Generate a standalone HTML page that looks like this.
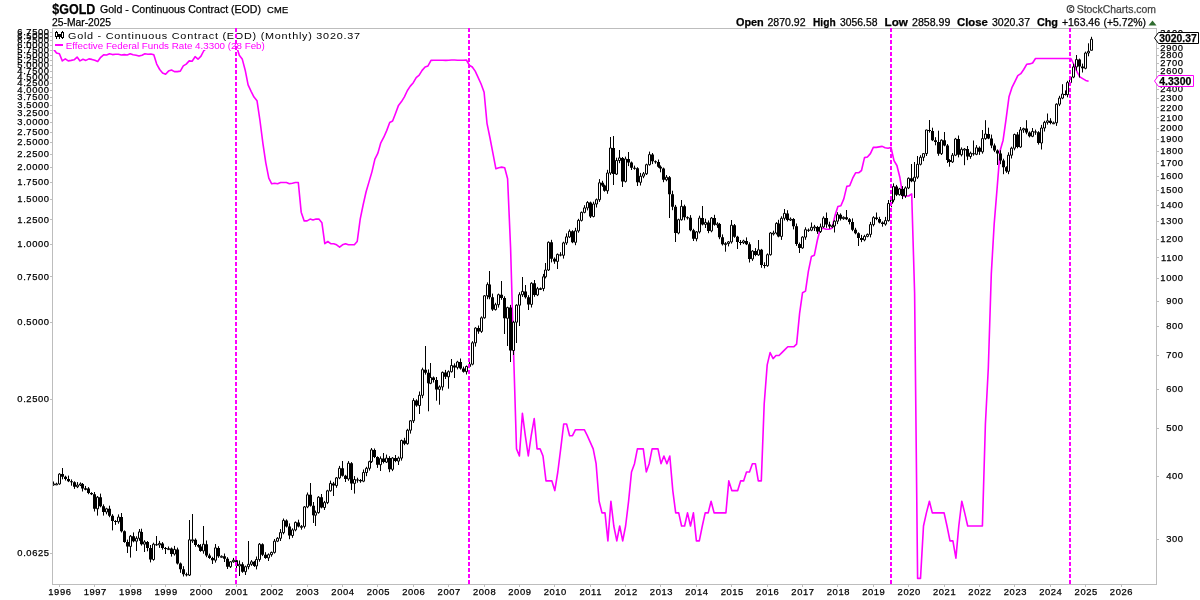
<!DOCTYPE html>
<html><head><meta charset="utf-8"><style>
html,body{margin:0;padding:0;background:#fff;}
body{width:1200px;height:600px;position:relative;overflow:hidden;font-family:"Liberation Sans", sans-serif;color:#000;}
svg text{font-family:"Liberation Sans", sans-serif;stroke-width:0.25px;}
</style></head><body>
<svg width="1200" height="600" style="position:absolute;left:0;top:0;will-change:transform"><rect x="52.5" y="28.5" width="1104" height="556" fill="#fff" stroke="#bdbdbd" stroke-width="1"/><path d="M50 553.5h2M50 399.5h2M50 322.5h2M50 276.5h2M50 244.5h2M50 219.5h2M50 199.5h2M50 182.5h2M50 167.5h2M50 154.5h2M50 142.5h2M50 132.5h2M50 122.5h2M50 113.5h2M50 105.5h2M50 97.5h2M50 90.5h2M50 83.5h2M50 77.5h2M50 71.5h2M50 65.5h2M50 60.5h2M50 55.5h2M50 50.5h2M50 45.5h2M50 40.5h2M50 36.5h2M50 32.5h2M1157 539.5h2M1157 476.5h2M1157 428.5h2M1157 389.5h2M1157 355.5h2M1157 326.5h2M1157 301.5h2M1157 278.5h2M1157 257.5h2M1157 239.5h2M1157 221.5h2M1157 205.5h2M1157 190.5h2M1157 176.5h2M1157 163.5h2M1157 151.5h2M1157 139.5h2M1157 128.5h2M1157 117.5h2M1157 107.5h2M1157 98.5h2M1157 89.5h2M1157 80.5h2M1157 71.5h2M1157 63.5h2M1157 55.5h2M1157 48.5h2M1157 40.5h2M1157 33.5h2M59.5 585v2M94.5 585v2M130.5 585v2M165.5 585v2M200.5 585v2M236.5 585v2M271.5 585v2M307.5 585v2M342.5 585v2M377.5 585v2M413.5 585v2M448.5 585v2M484.5 585v2M519.5 585v2M554.5 585v2M590.5 585v2M625.5 585v2M660.5 585v2M696.5 585v2M731.5 585v2M767.5 585v2M802.5 585v2M837.5 585v2M873.5 585v2M908.5 585v2M944.5 585v2M979.5 585v2M1014.5 585v2M1050.5 585v2M1085.5 585v2M1121.5 585v2" stroke="#bdbdbd" stroke-width="1" fill="none"/><text x="49.6" y="556.1" text-anchor="end" font-size="9.4" letter-spacing="0.6" stroke="#000">0.0625</text><text x="49.6" y="401.8" text-anchor="end" font-size="9.4" letter-spacing="0.6" stroke="#000">0.2500</text><text x="49.6" y="324.6" text-anchor="end" font-size="9.4" letter-spacing="0.6" stroke="#000">0.5000</text><text x="49.6" y="279.5" text-anchor="end" font-size="9.4" letter-spacing="0.6" stroke="#000">0.7500</text><text x="49.6" y="247.4" text-anchor="end" font-size="9.4" letter-spacing="0.6" stroke="#000">1.0000</text><text x="49.6" y="222.6" text-anchor="end" font-size="9.4" letter-spacing="0.6" stroke="#000">1.2500</text><text x="49.6" y="202.3" text-anchor="end" font-size="9.4" letter-spacing="0.6" stroke="#000">1.5000</text><text x="49.6" y="185.1" text-anchor="end" font-size="9.4" letter-spacing="0.6" stroke="#000">1.7500</text><text x="49.6" y="170.3" text-anchor="end" font-size="9.4" letter-spacing="0.6" stroke="#000">2.0000</text><text x="49.6" y="157.1" text-anchor="end" font-size="9.4" letter-spacing="0.6" stroke="#000">2.2500</text><text x="49.6" y="145.4" text-anchor="end" font-size="9.4" letter-spacing="0.6" stroke="#000">2.5000</text><text x="49.6" y="134.8" text-anchor="end" font-size="9.4" letter-spacing="0.6" stroke="#000">2.7500</text><text x="49.6" y="125.1" text-anchor="end" font-size="9.4" letter-spacing="0.6" stroke="#000">3.0000</text><text x="49.6" y="116.2" text-anchor="end" font-size="9.4" letter-spacing="0.6" stroke="#000">3.2500</text><text x="49.6" y="108.0" text-anchor="end" font-size="9.4" letter-spacing="0.6" stroke="#000">3.5000</text><text x="49.6" y="100.3" text-anchor="end" font-size="9.4" letter-spacing="0.6" stroke="#000">3.7500</text><text x="49.6" y="93.1" text-anchor="end" font-size="9.4" letter-spacing="0.6" stroke="#000">4.0000</text><text x="49.6" y="86.3" text-anchor="end" font-size="9.4" letter-spacing="0.6" stroke="#000">4.2500</text><text x="49.6" y="80.0" text-anchor="end" font-size="9.4" letter-spacing="0.6" stroke="#000">4.5000</text><text x="49.6" y="74.0" text-anchor="end" font-size="9.4" letter-spacing="0.6" stroke="#000">4.7500</text><text x="49.6" y="68.2" text-anchor="end" font-size="9.4" letter-spacing="0.6" stroke="#000">5.0000</text><text x="49.6" y="62.8" text-anchor="end" font-size="9.4" letter-spacing="0.6" stroke="#000">5.2500</text><text x="49.6" y="57.6" text-anchor="end" font-size="9.4" letter-spacing="0.6" stroke="#000">5.5000</text><text x="49.6" y="52.7" text-anchor="end" font-size="9.4" letter-spacing="0.6" stroke="#000">5.7500</text><text x="49.6" y="47.9" text-anchor="end" font-size="9.4" letter-spacing="0.6" stroke="#000">6.0000</text><text x="49.6" y="43.4" text-anchor="end" font-size="9.4" letter-spacing="0.6" stroke="#000">6.2500</text><text x="49.6" y="39.0" text-anchor="end" font-size="9.4" letter-spacing="0.6" stroke="#000">6.5000</text><text x="49.6" y="34.8" text-anchor="end" font-size="9.4" letter-spacing="0.6" stroke="#000">6.7500</text><text x="1183.6" y="541.6" text-anchor="end" font-size="9.4" letter-spacing="0.6" stroke="#000">300</text><text x="1183.6" y="479.4" text-anchor="end" font-size="9.4" letter-spacing="0.6" stroke="#000">400</text><text x="1183.6" y="431.1" text-anchor="end" font-size="9.4" letter-spacing="0.6" stroke="#000">500</text><text x="1183.6" y="391.6" text-anchor="end" font-size="9.4" letter-spacing="0.6" stroke="#000">600</text><text x="1183.6" y="358.3" text-anchor="end" font-size="9.4" letter-spacing="0.6" stroke="#000">700</text><text x="1183.6" y="329.4" text-anchor="end" font-size="9.4" letter-spacing="0.6" stroke="#000">800</text><text x="1183.6" y="303.9" text-anchor="end" font-size="9.4" letter-spacing="0.6" stroke="#000">900</text><text x="1183.6" y="281.1" text-anchor="end" font-size="9.4" letter-spacing="0.6" stroke="#000">1000</text><text x="1183.6" y="260.5" text-anchor="end" font-size="9.4" letter-spacing="0.6" stroke="#000">1100</text><text x="1183.6" y="241.6" text-anchor="end" font-size="9.4" letter-spacing="0.6" stroke="#000">1200</text><text x="1183.6" y="224.3" text-anchor="end" font-size="9.4" letter-spacing="0.6" stroke="#000">1300</text><text x="1183.6" y="208.3" text-anchor="end" font-size="9.4" letter-spacing="0.6" stroke="#000">1400</text><text x="1183.6" y="193.4" text-anchor="end" font-size="9.4" letter-spacing="0.6" stroke="#000">1500</text><text x="1183.6" y="179.4" text-anchor="end" font-size="9.4" letter-spacing="0.6" stroke="#000">1600</text><text x="1183.6" y="166.3" text-anchor="end" font-size="9.4" letter-spacing="0.6" stroke="#000">1700</text><text x="1183.6" y="153.9" text-anchor="end" font-size="9.4" letter-spacing="0.6" stroke="#000">1800</text><text x="1183.6" y="142.2" text-anchor="end" font-size="9.4" letter-spacing="0.6" stroke="#000">1900</text><text x="1183.6" y="131.1" text-anchor="end" font-size="9.4" letter-spacing="0.6" stroke="#000">2000</text><text x="1183.6" y="120.5" text-anchor="end" font-size="9.4" letter-spacing="0.6" stroke="#000">2100</text><text x="1183.6" y="110.5" text-anchor="end" font-size="9.4" letter-spacing="0.6" stroke="#000">2200</text><text x="1183.6" y="100.9" text-anchor="end" font-size="9.4" letter-spacing="0.6" stroke="#000">2300</text><text x="1183.6" y="91.6" text-anchor="end" font-size="9.4" letter-spacing="0.6" stroke="#000">2400</text><text x="1183.6" y="82.8" text-anchor="end" font-size="9.4" letter-spacing="0.6" stroke="#000">2500</text><text x="1183.6" y="74.3" text-anchor="end" font-size="9.4" letter-spacing="0.6" stroke="#000">2600</text><text x="1183.6" y="66.2" text-anchor="end" font-size="9.4" letter-spacing="0.6" stroke="#000">2700</text><text x="1183.6" y="58.3" text-anchor="end" font-size="9.4" letter-spacing="0.6" stroke="#000">2800</text><text x="1183.6" y="50.7" text-anchor="end" font-size="9.4" letter-spacing="0.6" stroke="#000">2900</text><text x="1183.6" y="43.4" text-anchor="end" font-size="9.4" letter-spacing="0.6" stroke="#000">3000</text><text x="1183.6" y="36.3" text-anchor="end" font-size="9.4" letter-spacing="0.6" stroke="#000">3100</text><text x="59.9" y="595" text-anchor="middle" font-size="9.4" letter-spacing="0.6" stroke="#000">1996</text><text x="95.3" y="595" text-anchor="middle" font-size="9.4" letter-spacing="0.6" stroke="#000">1997</text><text x="130.7" y="595" text-anchor="middle" font-size="9.4" letter-spacing="0.6" stroke="#000">1998</text><text x="166.1" y="595" text-anchor="middle" font-size="9.4" letter-spacing="0.6" stroke="#000">1999</text><text x="201.5" y="595" text-anchor="middle" font-size="9.4" letter-spacing="0.6" stroke="#000">2000</text><text x="236.8" y="595" text-anchor="middle" font-size="9.4" letter-spacing="0.6" stroke="#000">2001</text><text x="272.2" y="595" text-anchor="middle" font-size="9.4" letter-spacing="0.6" stroke="#000">2002</text><text x="307.6" y="595" text-anchor="middle" font-size="9.4" letter-spacing="0.6" stroke="#000">2003</text><text x="343.0" y="595" text-anchor="middle" font-size="9.4" letter-spacing="0.6" stroke="#000">2004</text><text x="378.4" y="595" text-anchor="middle" font-size="9.4" letter-spacing="0.6" stroke="#000">2005</text><text x="413.8" y="595" text-anchor="middle" font-size="9.4" letter-spacing="0.6" stroke="#000">2006</text><text x="449.2" y="595" text-anchor="middle" font-size="9.4" letter-spacing="0.6" stroke="#000">2007</text><text x="484.6" y="595" text-anchor="middle" font-size="9.4" letter-spacing="0.6" stroke="#000">2008</text><text x="519.9" y="595" text-anchor="middle" font-size="9.4" letter-spacing="0.6" stroke="#000">2009</text><text x="555.3" y="595" text-anchor="middle" font-size="9.4" letter-spacing="0.6" stroke="#000">2010</text><text x="590.7" y="595" text-anchor="middle" font-size="9.4" letter-spacing="0.6" stroke="#000">2011</text><text x="626.1" y="595" text-anchor="middle" font-size="9.4" letter-spacing="0.6" stroke="#000">2012</text><text x="661.5" y="595" text-anchor="middle" font-size="9.4" letter-spacing="0.6" stroke="#000">2013</text><text x="696.9" y="595" text-anchor="middle" font-size="9.4" letter-spacing="0.6" stroke="#000">2014</text><text x="732.3" y="595" text-anchor="middle" font-size="9.4" letter-spacing="0.6" stroke="#000">2015</text><text x="767.7" y="595" text-anchor="middle" font-size="9.4" letter-spacing="0.6" stroke="#000">2016</text><text x="803.0" y="595" text-anchor="middle" font-size="9.4" letter-spacing="0.6" stroke="#000">2017</text><text x="838.4" y="595" text-anchor="middle" font-size="9.4" letter-spacing="0.6" stroke="#000">2018</text><text x="873.8" y="595" text-anchor="middle" font-size="9.4" letter-spacing="0.6" stroke="#000">2019</text><text x="909.2" y="595" text-anchor="middle" font-size="9.4" letter-spacing="0.6" stroke="#000">2020</text><text x="944.6" y="595" text-anchor="middle" font-size="9.4" letter-spacing="0.6" stroke="#000">2021</text><text x="980.0" y="595" text-anchor="middle" font-size="9.4" letter-spacing="0.6" stroke="#000">2022</text><text x="1015.4" y="595" text-anchor="middle" font-size="9.4" letter-spacing="0.6" stroke="#000">2023</text><text x="1050.8" y="595" text-anchor="middle" font-size="9.4" letter-spacing="0.6" stroke="#000">2024</text><text x="1086.2" y="595" text-anchor="middle" font-size="9.4" letter-spacing="0.6" stroke="#000">2025</text><text x="1121.5" y="595" text-anchor="middle" font-size="9.4" letter-spacing="0.6" stroke="#000">2026</text><g clip-path="url(#cp)"><clipPath id="cp"><rect x="53" y="29" width="1103" height="555"/></clipPath><polyline points="53.5,49.1 56.5,53.0 59.4,53.8 62.3,60.9 65.3,58.9 68.2,60.9 71.2,60.4 74.1,59.8 77.1,57.1 80.0,60.9 83.0,59.2 85.9,60.4 88.9,58.9 91.8,59.4 94.8,60.2 97.7,61.5 100.7,57.3 103.6,54.8 106.6,55.0 109.5,53.8 112.5,54.6 115.4,54.2 118.4,54.2 121.3,55.0 124.3,54.6 127.2,55.0 130.2,53.8 133.1,54.8 136.1,55.2 139.0,56.1 142.0,55.2 144.9,53.8 147.9,54.2 150.8,54.0 153.8,54.8 156.7,64.1 159.7,69.5 162.6,73.0 165.6,74.2 168.5,71.1 171.5,70.0 174.4,71.6 177.4,71.6 180.3,71.1 183.3,65.9 186.2,64.1 189.2,60.9 192.1,61.3 195.1,56.7 198.0,59.2 201.0,56.1 203.9,50.5 206.8,48.2 209.8,45.0 212.7,40.4 215.7,35.9 218.6,35.8 221.6,36.4 224.5,36.1 227.5,36.3 230.4,36.3 233.4,38.2 236.3,45.7 239.3,55.2 242.2,58.9 245.2,70.2 248.1,84.8 251.1,91.3 254.0,97.1 257.0,100.7 259.9,120.0 262.9,143.3 265.8,162.8 268.8,178.2 271.7,183.8 274.7,183.2 277.6,183.8 280.6,182.5 283.5,182.5 286.5,182.5 289.4,183.8 292.4,183.2 295.3,182.5 298.3,182.5 301.2,212.2 304.2,220.9 307.1,220.9 310.1,219.1 313.0,220.0 316.0,219.1 318.9,219.1 321.9,222.7 324.8,243.7 327.8,241.5 330.7,243.7 333.7,243.7 336.6,244.8 339.6,247.1 342.5,244.8 345.5,243.7 348.4,244.8 351.4,244.8 354.3,244.8 357.2,241.5 360.2,219.1 363.1,205.0 366.1,191.8 369.0,181.9 372.0,171.6 374.9,159.1 377.9,153.1 380.8,142.8 383.8,137.2 386.7,130.6 389.7,122.5 392.6,121.0 395.6,113.3 398.5,105.4 401.5,101.6 404.4,96.8 407.4,90.5 410.3,86.1 413.3,82.7 416.2,77.6 419.2,75.2 422.1,70.4 425.1,67.0 428.0,65.9 431.0,60.4 433.9,60.2 436.9,60.2 439.8,60.2 442.8,60.2 445.7,60.4 448.7,60.2 451.6,60.0 454.6,60.0 457.5,60.2 460.5,60.2 463.4,60.2 466.4,60.0 469.3,65.2 472.3,67.0 475.2,71.1 478.2,77.6 481.1,84.0 484.1,92.2 487.0,123.3 490.0,138.0 492.9,153.1 495.9,168.8 498.8,167.7 501.7,167.1 504.7,167.7 507.6,178.8 510.6,248.2 513.5,349.7 516.5,448.9 519.4,456.0 522.4,413.4 525.3,435.7 528.3,456.0 531.2,435.7 534.2,418.6 537.1,448.9 540.1,448.9 543.0,456.0 546.0,480.9 548.9,480.9 551.9,480.9 554.8,490.6 557.8,472.0 560.7,448.9 563.7,424.0 566.6,424.0 569.6,435.7 572.5,435.7 575.5,429.7 578.4,429.7 581.4,429.7 584.3,429.7 587.3,435.7 590.2,442.1 593.2,448.9 596.1,463.7 599.1,501.2 602.0,512.9 605.0,512.9 607.9,540.9 610.9,501.2 613.8,526.0 616.8,540.9 619.7,526.0 622.7,540.9 625.6,526.0 628.6,501.2 631.5,472.0 634.5,463.7 637.4,448.9 640.4,448.9 643.3,448.9 646.3,472.0 649.2,463.7 652.1,448.9 655.1,448.9 658.0,448.9 661.0,463.7 663.9,456.0 666.9,463.7 669.8,456.0 672.8,490.6 675.7,512.9 678.7,512.9 681.6,526.0 684.6,526.0 687.5,512.9 690.5,526.0 693.4,512.9 696.4,540.9 699.3,540.9 702.3,526.0 705.2,512.9 708.2,512.9 711.1,501.2 714.1,512.9 717.0,512.9 720.0,512.9 722.9,512.9 725.9,512.9 728.8,480.9 731.8,490.6 734.7,490.6 737.7,490.6 740.6,480.9 743.6,480.9 746.5,472.0 749.5,472.0 752.4,463.7 755.4,463.7 758.3,480.9 761.3,480.9 764.2,403.7 767.2,364.9 770.1,352.6 773.1,358.6 776.0,355.5 779.0,355.5 781.9,352.6 784.9,349.7 787.8,346.8 790.8,346.8 793.7,346.8 796.6,344.1 799.6,313.4 802.5,292.8 805.5,291.1 808.4,271.1 811.4,256.6 814.3,255.3 817.3,240.5 820.2,229.3 823.2,228.3 826.1,229.3 829.1,229.3 832.0,228.3 835.0,215.6 837.9,206.6 840.9,205.8 843.8,198.9 846.8,186.4 849.7,185.8 852.7,178.2 855.6,172.8 858.6,172.8 861.5,170.5 864.5,157.6 867.4,157.0 870.4,153.6 873.3,147.4 876.3,147.4 879.2,146.9 882.2,146.4 885.1,147.8 888.1,148.3 891.0,147.4 894.0,160.6 896.9,165.5 899.9,177.5 902.8,196.0 905.8,196.0 908.7,196.0 911.7,193.9 914.6,292.8 917.6,578.4 920.5,578.4 923.5,526.0 926.4,512.9 929.4,501.2 932.3,512.9 935.3,512.9 938.2,512.9 941.2,512.9 944.1,512.9 947.0,526.0 950.0,540.9 952.9,540.9 955.9,558.1 958.8,526.0 961.8,501.2 964.7,512.9 967.7,526.0 970.6,526.0 973.6,526.0 976.5,526.0 979.5,526.0 982.4,526.0 985.4,424.0 988.3,368.3 991.3,273.9 994.2,223.6 997.2,187.1 1000.1,150.7 1003.1,140.2 1006.0,119.6 1009.0,96.8 1011.9,87.7 1014.9,81.7 1017.8,75.7 1020.8,73.7 1023.7,69.5 1026.7,64.3 1029.6,63.9 1032.6,63.0 1035.5,58.5 1038.5,58.5 1041.4,58.5 1044.4,58.5 1047.3,58.5 1050.3,58.5 1053.2,58.5 1056.2,58.5 1059.1,58.5 1062.1,58.5 1065.0,58.5 1068.0,58.5 1070.9,58.5 1073.9,64.5 1076.8,71.4 1079.8,76.9 1082.7,78.6 1085.7,80.4 1088.6,81.2" fill="none" stroke="#ff00ff" stroke-width="1.6" stroke-linejoin="round"/><path d="M53.5 481.5V485.7M56.5 482.7V485.0M59.5 473.2V484.8M62.5 468.0V479.3M65.5 475.7V480.5M68.5 475.6V482.1M71.5 479.4V485.7M74.5 481.3V488.9M77.5 482.1V488.1M80.5 482.4V486.0M82.5 483.0V491.5M85.5 485.9V490.3M88.5 487.1V494.2M91.5 492.2V495.1M94.5 492.0V511.5M97.5 496.0V515.6M100.5 493.6V507.3M103.5 504.4V515.6M106.5 507.8V514.3M109.5 505.7V517.2M112.5 514.2V530.4M115.5 520.1V524.9M118.5 514.4V523.7M121.5 513.0V532.5M124.5 530.4V542.8M127.5 539.6V553.0M130.5 535.0V557.6M133.5 532.4V542.3M136.5 536.3V551.0M139.5 529.0V540.8M141.5 528.7V545.6M144.5 540.2V552.0M147.5 541.0V551.3M150.5 545.0V562.4M153.5 542.7V560.7M156.5 536.0V545.8M159.5 540.9V547.9M162.5 542.1V549.7M165.5 547.0V554.0M168.5 546.5V549.5M171.5 547.5V556.6M174.5 545.9V555.6M177.5 547.6V564.5M180.5 562.5V572.8M183.5 566.2V576.5M186.5 572.6V576.4M189.5 520.0V576.0M192.5 514.0V542.9M195.5 538.4V546.8M198.5 544.0V547.6M200.5 544.1V551.8M203.5 526.0V553.7M206.5 540.5V557.2M209.5 553.6V558.9M212.5 556.8V564.0M215.5 544.0V562.6M218.5 546.2V557.8M221.5 555.4V557.3M224.5 553.5V562.0M227.5 557.2V569.0M230.5 561.0V568.0M233.5 557.9V562.7M236.5 559.0V568.8M239.5 560.5V576.0M242.5 562.2V572.8M245.5 565.6V575.0M248.5 541.0V569.3M251.5 560.1V565.8M254.5 560.9V566.9M256.5 556.5V569.4M259.5 543.0V561.7M262.5 543.3V556.1M265.5 552.2V558.8M268.5 553.4V561.0M271.5 551.6V556.7M274.5 539.0V553.6M277.5 537.2V542.1M280.5 529.1V541.0M283.5 518.5V534.3M286.5 519.4V527.5M289.5 523.4V539.2M292.5 528.3V537.8M295.5 521.5V531.3M298.5 519.7V527.4M301.5 525.1V529.7M304.5 506.1V528.5M307.5 492.5V508.2M310.5 483.0V506.6M313.5 502.0V523.0M315.5 510.6V526.0M318.5 496.1V513.7M321.5 494.0V508.4M324.5 500.9V510.0M327.5 489.8V504.1M330.5 480.6V491.7M333.5 481.9V496.0M336.5 477.0V487.8M339.5 465.9V479.2M342.5 461.0V476.6M345.5 474.8V482.0M348.5 461.1V480.8M351.5 462.1V490.0M354.5 476.1V493.6M357.5 477.7V482.7M360.5 479.1V482.8M363.5 469.5V482.2M366.5 466.8V476.2M369.5 460.7V470.6M371.5 448.0V463.0M374.5 448.5V458.1M377.5 456.3V467.9M380.5 456.4V471.0M383.5 453.0V463.4M386.5 454.6V463.0M389.5 456.2V472.2M392.5 457.1V471.1M395.5 455.0V462.2M398.5 456.5V465.0M401.5 439.6V460.6M404.5 437.8V445.2M407.5 428.8V444.7M410.5 420.0V433.6M413.5 398.2V423.0M416.5 399.3V406.8M419.5 391.5V414.0M422.5 367.7V398.2M425.5 346.0V374.6M428.5 369.4V411.3M430.5 363.0V384.2M433.5 376.5V382.5M436.5 377.0V400.7M439.5 385.4V404.7M442.5 371.5V390.5M445.5 369.9V379.0M448.5 370.4V388.7M451.5 359.0V372.6M454.5 363.4V378.0M457.5 360.8V369.4M460.5 358.5V369.6M463.5 366.6V372.6M466.5 365.5V374.5M469.5 361.2V368.1M472.5 341.2V365.3M475.5 327.2V346.6M478.5 325.5V333.8M481.5 316.4V332.9M484.5 295.0V318.7M487.5 282.4V299.2M489.5 271.0V299.3M492.5 293.6V310.9M495.5 302.8V310.5M498.5 293.6V307.6M501.5 281.0V299.8M504.5 296.3V334.0M507.5 306.7V346.0M510.5 304.9V362.0M513.5 320.8V355.0M516.5 304.3V343.0M519.5 292.3V326.0M522.5 277.0V296.9M525.5 285.0V298.6M528.5 295.2V310.0M531.5 282.2V307.5M534.5 280.0V296.8M537.5 286.9V296.1M540.5 287.5V289.6M543.5 273.9V291.2M545.5 263.0V278.4M548.5 241.4V271.0M551.5 239.8V262.4M554.5 257.4V263.8M557.5 253.5V269.0M560.5 252.2V256.3M563.5 241.7V258.6M566.5 233.4V244.9M569.5 229.4V238.1M572.5 230.2V243.2M575.5 227.8V245.2M578.5 218.8V232.7M581.5 211.5V221.5M584.5 205.2V213.3M587.5 201.1V210.4M590.5 201.6V218.0M593.5 201.7V217.4M596.5 198.5V207.5M599.5 179.1V201.9M602.5 180.8V186.9M604.5 184.6V191.7M607.5 169.8V193.8M610.5 137.0V174.9M613.5 136.0V185.0M616.5 157.7V175.0M619.5 150.0V163.2M622.5 157.0V187.0M625.5 156.6V182.5M628.5 152.0V166.1M631.5 161.5V170.0M634.5 165.6V169.7M637.5 167.2V186.0M640.5 172.9V185.5M643.5 172.0V178.2M646.5 163.7V175.0M649.5 151.6V165.6M652.5 153.0V164.1M655.5 160.4V163.7M658.5 159.5V167.8M660.5 165.4V172.3M663.5 167.6V182.2M666.5 175.0V181.3M669.5 176.0V218.0M672.5 190.7V210.2M675.5 204.9V242.0M678.5 218.7V234.3M681.5 200.0V220.6M684.5 204.7V220.3M687.5 216.3V219.6M690.5 215.1V231.3M693.5 228.8V241.0M696.5 231.1V241.3M699.5 215.7V233.5M702.5 206.0V225.4M705.5 218.7V228.0M708.5 220.4V233.2M711.5 217.0V232.3M714.5 214.8V225.7M717.5 222.2V227.9M719.5 222.9V239.2M722.5 234.4V245.5M725.5 242.1V251.7M728.5 241.1V246.4M731.5 220.0V243.6M734.5 224.0V237.8M737.5 235.8V249.0M740.5 240.0V245.1M743.5 239.7V244.1M746.5 237.4V245.1M749.5 242.3V262.5M752.5 250.1V260.9M755.5 248.1V256.2M758.5 240.0V255.8M761.5 248.9V267.8M764.5 262.3V268.3M767.5 253.4V266.8M770.5 232.1V255.6M773.5 230.7V235.5M776.5 222.2V234.5M778.5 219.8V237.3M781.5 216.3V239.9M784.5 209.0V220.5M787.5 210.2V221.4M790.5 217.4V221.0M793.5 218.1V229.4M796.5 223.5V245.9M799.5 242.5V253.0M802.5 236.2V248.8M805.5 227.3V239.8M808.5 228.5V231.9M811.5 222.5V231.2M814.5 224.9V231.0M817.5 225.9V233.9M820.5 223.6V233.0M823.5 216.3V227.9M826.5 212.5V227.8M829.5 221.7V228.6M832.5 224.4V227.8M834.5 220.3V232.5M837.5 212.2V224.1M840.5 213.4V220.5M843.5 216.4V219.8M846.5 210.0V220.1M849.5 218.1V224.4M852.5 218.4V231.2M855.5 227.8V234.3M858.5 232.3V246.0M861.5 234.9V242.1M864.5 234.8V241.3M867.5 233.5V237.3M870.5 221.9V237.4M873.5 216.2V226.4M876.5 212.5V220.2M879.5 216.8V223.4M882.5 221.4V226.7M885.5 216.9V225.7M888.5 200.0V221.6M891.5 199.0V207.2M893.5 183.4V202.3M896.5 184.9V196.1M899.5 187.9V195.6M902.5 186.1V199.1M905.5 186.4V197.9M908.5 177.4V189.1M911.5 164.0V182.2M914.5 162.0V198.0M917.5 156.0V178.9M920.5 155.2V165.4M923.5 153.6V161.1M926.5 129.7V156.0M929.5 120.0V132.6M932.5 127.7V141.1M935.5 137.2V145.3M938.5 130.7V155.8M941.5 139.3V155.0M944.5 132.0V146.3M947.5 144.0V163.0M949.5 159.1V166.7M952.5 153.0V163.0M955.5 137.9V156.1M958.5 135.5V157.4M961.5 147.4V156.4M964.5 148.1V165.2M967.5 146.0V160.1M970.5 151.6V158.8M973.5 140.5V155.7M976.5 145.1V155.2M979.5 146.4V154.9M982.5 130.0V153.7M985.5 120.2V139.8M988.5 127.7V139.2M991.5 134.6V148.2M994.5 143.5V152.1M997.5 149.4V165.0M1000.5 150.2V164.2M1003.5 158.7V174.2M1006.5 166.3V172.8M1008.5 152.3V174.2M1011.5 146.7V158.5M1014.5 133.6V150.3M1017.5 132.1V148.3M1020.5 127.0V147.9M1023.5 127.7V132.8M1026.5 120.2V134.3M1029.5 131.4V137.4M1032.5 128.0V137.2M1035.5 129.6V134.8M1038.5 131.2V144.6M1041.5 124.9V149.5M1044.5 120.8V131.5M1047.5 113.5V124.6M1050.5 118.2V124.3M1053.5 121.5V123.9M1056.5 103.3V125.9M1059.5 95.8V106.1M1062.5 84.2V99.2M1065.5 90.4V95.5M1067.5 80.8V97.3M1070.5 76.1V84.2M1073.5 63.7V78.2M1076.5 55.0V70.6M1079.5 58.6V77.5M1082.5 63.6V72.5M1085.5 51.6V69.3M1088.5 43.3V56.3M1091.5 36.8V50.3" stroke="#000" stroke-width="1" fill="none"/><path d="M61.0 474.1h3V476.8h-3zM64.0 476.8h3V479.0h-3zM67.0 479.0h3V481.2h-3zM70.0 481.2h3V482.3h-3zM73.0 482.3h3V486.8h-3zM81.0 483.9h3V488.5h-3zM87.0 488.5h3V493.1h-3zM90.0 493.1h3V494.2h-3zM93.0 494.2h3V508.8h-3zM99.0 497.2h3V506.3h-3zM102.0 506.3h3V512.0h-3zM108.0 508.8h3V515.8h-3zM111.0 515.8h3V521.1h-3zM114.0 521.1h3V522.1h-3zM120.0 517.1h3V531.3h-3zM123.0 531.3h3V541.9h-3zM126.0 541.9h3V546.4h-3zM132.0 536.2h3V541.2h-3zM140.0 531.9h3V544.2h-3zM146.0 541.9h3V547.9h-3zM149.0 547.9h3V559.5h-3zM155.0 544.2h3V545.2h-3zM161.0 543.4h3V547.9h-3zM164.0 547.9h3V548.9h-3zM170.0 548.6h3V554.0h-3zM176.0 549.4h3V563.5h-3zM179.0 563.5h3V569.2h-3zM182.0 569.2h3V574.2h-3zM185.0 574.2h3V575.2h-3zM194.0 539.8h3V544.9h-3zM197.0 544.9h3V546.4h-3zM199.0 546.4h3V550.9h-3zM205.0 544.2h3V555.5h-3zM208.0 555.5h3V557.9h-3zM211.0 557.9h3V560.2h-3zM217.0 547.9h3V556.3h-3zM223.0 556.3h3V558.7h-3zM226.0 558.7h3V566.7h-3zM235.0 560.2h3V565.9h-3zM241.0 564.3h3V571.7h-3zM253.0 561.8h3V565.9h-3zM261.0 544.2h3V554.7h-3zM264.0 554.7h3V557.9h-3zM285.0 520.4h3V526.4h-3zM288.0 526.4h3V535.5h-3zM297.0 522.4h3V526.4h-3zM309.0 494.8h3V505.7h-3zM312.0 505.7h3V515.2h-3zM320.0 497.2h3V507.5h-3zM332.0 483.4h3V485.6h-3zM341.0 468.3h3V475.7h-3zM344.0 475.7h3V479.0h-3zM350.0 463.2h3V483.4h-3zM356.0 479.5h3V480.5h-3zM359.0 480.1h3V481.2h-3zM373.0 449.9h3V457.1h-3zM376.0 457.1h3V464.7h-3zM382.0 458.6h3V462.1h-3zM388.0 458.1h3V469.3h-3zM394.0 458.1h3V461.1h-3zM403.0 440.5h3V443.7h-3zM415.0 400.5h3V405.5h-3zM424.0 369.7h3V372.7h-3zM427.0 372.7h3V383.3h-3zM432.0 377.5h3V379.9h-3zM435.0 379.9h3V389.4h-3zM444.0 372.4h3V376.8h-3zM453.0 365.5h3V367.4h-3zM459.0 362.0h3V368.4h-3zM462.0 368.4h3V371.7h-3zM477.0 328.1h3V331.4h-3zM488.0 284.6h3V297.3h-3zM491.0 297.3h3V309.6h-3zM500.0 294.7h3V298.0h-3zM503.0 298.0h3V318.3h-3zM509.0 307.6h3V350.5h-3zM524.0 291.4h3V297.3h-3zM527.0 297.3h3V304.4h-3zM533.0 283.3h3V294.9h-3zM550.0 242.3h3V258.7h-3zM553.0 258.7h3V261.4h-3zM559.0 254.4h3V255.4h-3zM571.0 231.3h3V242.3h-3zM589.0 202.5h3V216.5h-3zM601.0 182.8h3V185.6h-3zM603.0 185.6h3V190.8h-3zM612.0 148.0h3V174.1h-3zM621.0 157.9h3V181.4h-3zM627.0 159.0h3V162.4h-3zM630.0 162.4h3V167.7h-3zM633.0 167.7h3V168.7h-3zM636.0 168.3h3V182.3h-3zM651.0 154.6h3V161.3h-3zM654.0 161.3h3V162.3h-3zM657.0 162.0h3V166.7h-3zM659.0 166.7h3V168.4h-3zM662.0 168.4h3V179.8h-3zM668.0 177.2h3V194.2h-3zM671.0 194.2h3V206.8h-3zM674.0 206.8h3V233.0h-3zM683.0 206.3h3V217.3h-3zM686.0 217.3h3V218.3h-3zM689.0 217.8h3V230.2h-3zM692.0 230.2h3V238.7h-3zM701.0 218.1h3V224.4h-3zM707.0 222.4h3V230.9h-3zM713.0 218.1h3V224.7h-3zM718.0 223.9h3V237.2h-3zM721.0 237.2h3V244.3h-3zM733.0 225.2h3V236.7h-3zM736.0 236.7h3V242.1h-3zM739.0 242.1h3V243.1h-3zM745.0 240.9h3V244.2h-3zM748.0 244.2h3V258.9h-3zM754.0 251.1h3V254.9h-3zM760.0 249.8h3V264.9h-3zM763.0 264.9h3V265.9h-3zM777.0 223.4h3V236.4h-3zM786.0 213.4h3V220.1h-3zM792.0 219.1h3V226.3h-3zM795.0 226.3h3V244.0h-3zM798.0 244.0h3V247.9h-3zM807.0 229.7h3V230.7h-3zM816.0 226.9h3V231.6h-3zM825.0 218.1h3V224.6h-3zM828.0 224.6h3V226.6h-3zM839.0 214.7h3V218.7h-3zM845.0 217.3h3V219.2h-3zM848.0 219.2h3V221.9h-3zM851.0 221.9h3V229.7h-3zM854.0 229.7h3V233.3h-3zM857.0 233.3h3V238.0h-3zM860.0 238.0h3V239.9h-3zM875.0 217.6h3V219.1h-3zM878.0 219.1h3V222.6h-3zM881.0 222.6h3V224.1h-3zM895.0 186.6h3V194.7h-3zM901.0 188.9h3V195.9h-3zM910.0 178.3h3V181.3h-3zM928.0 130.0h3V131.1h-3zM931.0 131.1h3V140.2h-3zM934.0 140.2h3V141.9h-3zM937.0 141.9h3V153.7h-3zM943.0 140.2h3V145.4h-3zM946.0 145.4h3V160.0h-3zM948.0 160.0h3V161.9h-3zM957.0 139.0h3V154.8h-3zM966.0 149.1h3V156.5h-3zM972.0 153.2h3V154.3h-3zM978.0 147.8h3V151.8h-3zM987.0 134.0h3V138.4h-3zM990.0 138.4h3V145.5h-3zM993.0 145.5h3V150.5h-3zM996.0 150.5h3V153.5h-3zM999.0 153.5h3V160.4h-3zM1002.0 160.4h3V167.3h-3zM1005.0 167.3h3V171.3h-3zM1016.0 134.5h3V147.0h-3zM1025.0 128.6h3V132.5h-3zM1028.0 132.5h3V136.3h-3zM1034.0 131.4h3V132.4h-3zM1037.0 132.2h3V143.0h-3zM1049.0 120.8h3V122.9h-3zM1064.0 94.1h3V95.1h-3zM1078.0 59.6h3V66.4h-3zM1081.0 66.4h3V68.3h-3z" fill="#000"/><path d="M52.5 483.9h2V484.9h-2zM55.5 483.9h2V484.9h-2zM58.5 474.1h2V483.9h-2zM76.5 485.1h2V486.8h-2zM79.5 483.9h2V485.1h-2zM84.5 488.5h2V489.5h-2zM96.5 497.2h2V508.8h-2zM105.5 508.8h2V512.0h-2zM117.5 517.1h2V521.7h-2zM129.5 536.2h2V546.4h-2zM135.5 538.3h2V541.2h-2zM138.5 531.9h2V538.3h-2zM143.5 541.9h2V544.2h-2zM152.5 544.2h2V559.5h-2zM158.5 543.4h2V544.9h-2zM167.5 548.6h2V549.6h-2zM173.5 549.4h2V554.0h-2zM188.5 539.8h2V575.1h-2zM191.5 539.8h2V540.8h-2zM202.5 544.2h2V550.9h-2zM214.5 547.9h2V560.2h-2zM220.5 556.3h2V557.3h-2zM229.5 561.8h2V566.7h-2zM232.5 560.2h2V561.8h-2zM238.5 564.3h2V565.9h-2zM244.5 566.7h2V571.7h-2zM247.5 564.3h2V566.7h-2zM250.5 561.8h2V564.3h-2zM255.5 559.5h2V565.9h-2zM258.5 544.2h2V559.5h-2zM267.5 554.7h2V557.9h-2zM270.5 552.4h2V554.7h-2zM273.5 541.2h2V552.4h-2zM276.5 538.3h2V541.2h-2zM279.5 532.6h2V538.3h-2zM282.5 520.4h2V532.6h-2zM291.5 529.9h2V535.5h-2zM294.5 522.4h2V529.9h-2zM300.5 526.4h2V527.4h-2zM303.5 506.9h2V526.4h-2zM306.5 494.8h2V506.9h-2zM314.5 512.6h2V515.2h-2zM317.5 497.2h2V512.6h-2zM323.5 502.6h2V507.5h-2zM326.5 490.8h2V502.6h-2zM329.5 483.4h2V490.8h-2zM335.5 477.9h2V485.6h-2zM338.5 468.3h2V477.9h-2zM347.5 463.2h2V479.0h-2zM353.5 479.5h2V483.4h-2zM362.5 472.5h2V481.2h-2zM365.5 468.3h2V472.5h-2zM368.5 461.6h2V468.3h-2zM370.5 449.9h2V461.6h-2zM379.5 458.6h2V464.7h-2zM385.5 458.1h2V462.1h-2zM391.5 458.1h2V469.3h-2zM397.5 458.1h2V461.1h-2zM400.5 440.5h2V458.1h-2zM406.5 430.2h2V443.7h-2zM409.5 420.8h2V430.2h-2zM412.5 400.5h2V420.8h-2zM418.5 395.3h2V405.5h-2zM421.5 369.7h2V395.3h-2zM429.5 377.5h2V383.3h-2zM438.5 386.9h2V389.4h-2zM441.5 372.4h2V386.9h-2zM447.5 371.7h2V376.8h-2zM450.5 365.5h2V371.7h-2zM456.5 362.0h2V367.4h-2zM465.5 366.5h2V371.7h-2zM468.5 364.2h2V366.5h-2zM471.5 342.8h2V364.2h-2zM474.5 328.1h2V342.8h-2zM480.5 317.8h2V331.4h-2zM483.5 295.8h2V317.8h-2zM486.5 284.6h2V295.8h-2zM494.5 304.7h2V309.6h-2zM497.5 294.7h2V304.7h-2zM506.5 307.6h2V318.3h-2zM512.5 322.2h2V350.5h-2zM515.5 305.2h2V322.2h-2zM518.5 294.7h2V305.2h-2zM521.5 291.4h2V294.7h-2zM530.5 283.3h2V304.4h-2zM536.5 288.7h2V294.9h-2zM539.5 288.5h2V289.5h-2zM542.5 276.8h2V288.5h-2zM544.5 270.0h2V276.8h-2zM547.5 242.3h2V270.0h-2zM556.5 254.4h2V261.4h-2zM562.5 242.9h2V255.3h-2zM565.5 236.9h2V242.9h-2zM568.5 231.3h2V236.9h-2zM574.5 230.9h2V242.3h-2zM577.5 220.4h2V230.9h-2zM580.5 212.4h2V220.4h-2zM583.5 207.9h2V212.4h-2zM586.5 202.5h2V207.9h-2zM592.5 204.0h2V216.5h-2zM595.5 199.7h2V204.0h-2zM598.5 182.8h2V199.7h-2zM606.5 173.0h2V190.8h-2zM609.5 148.0h2V173.0h-2zM615.5 160.5h2V174.1h-2zM618.5 157.9h2V160.5h-2zM624.5 159.0h2V181.4h-2zM639.5 176.2h2V182.3h-2zM642.5 173.8h2V176.2h-2zM645.5 164.7h2V173.8h-2zM648.5 154.6h2V164.7h-2zM665.5 177.2h2V179.8h-2zM677.5 219.7h2V233.0h-2zM680.5 206.3h2V219.7h-2zM695.5 231.9h2V238.7h-2zM698.5 218.1h2V231.9h-2zM704.5 222.4h2V224.4h-2zM710.5 218.1h2V230.9h-2zM716.5 223.9h2V224.9h-2zM724.5 243.6h2V244.6h-2zM727.5 241.9h2V243.6h-2zM730.5 225.2h2V241.9h-2zM742.5 240.9h2V242.7h-2zM751.5 251.1h2V258.9h-2zM757.5 249.8h2V254.9h-2zM766.5 254.7h2V265.7h-2zM769.5 233.0h2V254.7h-2zM772.5 233.0h2V234.0h-2zM775.5 223.4h2V233.0h-2zM780.5 218.3h2V236.4h-2zM783.5 213.4h2V218.3h-2zM789.5 219.1h2V220.1h-2zM801.5 237.1h2V247.9h-2zM804.5 229.7h2V237.1h-2zM810.5 227.3h2V230.2h-2zM813.5 226.9h2V227.9h-2zM819.5 226.9h2V231.6h-2zM822.5 218.1h2V226.9h-2zM831.5 225.9h2V226.9h-2zM833.5 221.2h2V225.9h-2zM836.5 214.7h2V221.2h-2zM842.5 217.3h2V218.7h-2zM863.5 236.4h2V239.9h-2zM866.5 234.4h2V236.4h-2zM869.5 224.6h2V234.4h-2zM872.5 217.6h2V224.6h-2zM884.5 220.6h2V224.1h-2zM887.5 203.5h2V220.6h-2zM890.5 200.0h2V203.5h-2zM892.5 186.6h2V200.0h-2zM898.5 188.9h2V194.7h-2zM904.5 187.9h2V195.9h-2zM907.5 178.3h2V187.9h-2zM913.5 177.2h2V181.3h-2zM916.5 164.3h2V177.2h-2zM919.5 157.3h2V164.3h-2zM922.5 153.6h2V157.3h-2zM925.5 130.0h2V153.6h-2zM940.5 140.2h2V153.7h-2zM951.5 155.2h2V161.9h-2zM954.5 139.0h2V155.2h-2zM960.5 149.3h2V154.8h-2zM963.5 149.1h2V150.1h-2zM969.5 153.2h2V156.5h-2zM975.5 147.8h2V154.3h-2zM981.5 138.6h2V151.8h-2zM984.5 134.0h2V138.6h-2zM1007.5 155.2h2V171.3h-2zM1010.5 148.2h2V155.2h-2zM1013.5 134.5h2V148.2h-2zM1019.5 129.9h2V147.0h-2zM1022.5 128.6h2V129.9h-2zM1031.5 131.4h2V136.3h-2zM1040.5 128.0h2V143.0h-2zM1043.5 122.4h2V128.0h-2zM1046.5 120.8h2V122.4h-2zM1052.5 122.8h2V123.8h-2zM1055.5 104.2h2V122.8h-2zM1058.5 98.1h2V104.2h-2zM1061.5 94.1h2V98.1h-2zM1066.5 82.6h2V94.6h-2zM1069.5 77.1h2V82.6h-2zM1072.5 66.9h2V77.1h-2zM1075.5 59.6h2V66.9h-2zM1084.5 53.0h2V68.3h-2zM1087.5 51.3h2V53.0h-2zM1090.5 39.3h2V50.3h-2z" fill="#fff" stroke="#000" stroke-width="1"/><rect x="53" y="29" width="315" height="21" fill="#fff"/></g><text x="60.71" y="39" font-size="9.7" stroke="none" transform="scale(1.12,1)" textLength="260.7" lengthAdjust="spacing">Gold - Continuous Contract (EOD) (Monthly) 3020.37</text><rect x="55" y="44" width="8" height="2" fill="#ff00ff"/><text x="65.8" y="49" font-size="9.7" fill="#ff00ff" stroke="none" textLength="199" lengthAdjust="spacingAndGlyphs">Effective Federal Funds Rate 4.3300 (28 Feb)</text><path d="M56.5 31v8M59.5 36v3M62.5 31v8" stroke="#000"/><rect x="58" y="34" width="3" height="3"/><rect x="55.5" y="32.5" width="2" height="4" fill="#fff" stroke="#000"/><rect x="61.5" y="32.5" width="2" height="5" fill="#fff" stroke="#000"/><line x1="236" y1="28" x2="236" y2="584" stroke="#ff00ff" stroke-width="2" stroke-dasharray="4 2"/><line x1="469" y1="28" x2="469" y2="584" stroke="#ff00ff" stroke-width="2" stroke-dasharray="4 2"/><line x1="891" y1="28" x2="891" y2="584" stroke="#ff00ff" stroke-width="2" stroke-dasharray="4 2"/><line x1="1070" y1="28" x2="1070" y2="584" stroke="#ff00ff" stroke-width="2" stroke-dasharray="4 2"/><path d="M1154.5 38.0L1158.5 32.5H1198.5V43.5H1158.5Z" fill="#fff" stroke="#000" stroke-width="1"/><text x="1159.3" y="41.9" font-size="10.8" font-weight="bold" stroke="#000" textLength="37.5" lengthAdjust="spacingAndGlyphs">3020.37</text><path d="M1154.5 81.0L1158.5 75.5H1193.5V86.5H1158.5Z" fill="#fff" stroke="#ff00ff" stroke-width="1"/><text x="1159.3" y="84.9" font-size="10.8" font-weight="bold" stroke="#000" textLength="32" lengthAdjust="spacingAndGlyphs">4.3300</text><text x="52.3" y="14" font-size="14" font-weight="bold" fill="#000" stroke="#000" textLength="43" lengthAdjust="spacingAndGlyphs">$GOLD</text><text x="100" y="13" font-size="10.8" fill="#000" stroke="#000" textLength="161" lengthAdjust="spacingAndGlyphs">Gold - Continuous Contract (EOD)</text><text x="267" y="13" font-size="9.3" fill="#000" stroke="#000" textLength="21.3"  lengthAdjust="spacing">CME</text><text x="52" y="26" font-size="10.3" fill="#000" stroke="#000" textLength="59" lengthAdjust="spacingAndGlyphs">25-Mar-2025</text><circle cx="1070.5" cy="9" r="3.3" fill="none" stroke="#444" stroke-width="1.2"/><path d="M1072 7.6A1.6 1.6 0 1 0 1072 10.4" fill="none" stroke="#444" stroke-width="1.1"/><text x="1076.7" y="13" font-size="10.5" fill="#444" stroke="#444" textLength="79.3" lengthAdjust="spacingAndGlyphs">StockCharts.com</text><text x="736" y="26" font-size="10.5" font-weight="bold" fill="#000" stroke="#000" textLength="27.75" lengthAdjust="spacingAndGlyphs">Open</text><text x="767.5" y="26" font-size="10.5" fill="#000" stroke="#000" textLength="38.1" lengthAdjust="spacingAndGlyphs">2870.92</text><text x="813" y="26" font-size="10.5" font-weight="bold" fill="#000" stroke="#000" textLength="22.6" lengthAdjust="spacingAndGlyphs">High</text><text x="840" y="26" font-size="10.5" fill="#000" stroke="#000" textLength="37.5" lengthAdjust="spacingAndGlyphs">3056.58</text><text x="884.6" y="26" font-size="10.5" font-weight="bold" fill="#000" stroke="#000" textLength="23.3" lengthAdjust="spacingAndGlyphs">Low</text><text x="912" y="26" font-size="10.5" fill="#000" stroke="#000" textLength="38.3" lengthAdjust="spacingAndGlyphs">2858.99</text><text x="957" y="26" font-size="10.5" font-weight="bold" fill="#000" stroke="#000" textLength="30.9" lengthAdjust="spacingAndGlyphs">Close</text><text x="992" y="26" font-size="10.5" fill="#000" stroke="#000" textLength="38" lengthAdjust="spacingAndGlyphs">3020.37</text><text x="1036.9" y="26" font-size="10.5" font-weight="bold" fill="#000" stroke="#000" textLength="21.1" lengthAdjust="spacingAndGlyphs">Chg</text><text x="1061.9" y="26" font-size="10.5" fill="#000" stroke="#000" textLength="38.1" lengthAdjust="spacingAndGlyphs">+163.46</text><text x="1103.5" y="26" font-size="10.5" fill="#000" stroke="#000" textLength="42.5" lengthAdjust="spacingAndGlyphs">(+5.72%)</text><path d="M1148.5 25.5L1152.5 20.5L1156.5 25.5Z" fill="#2e6b2e"/></svg>
</body></html>
